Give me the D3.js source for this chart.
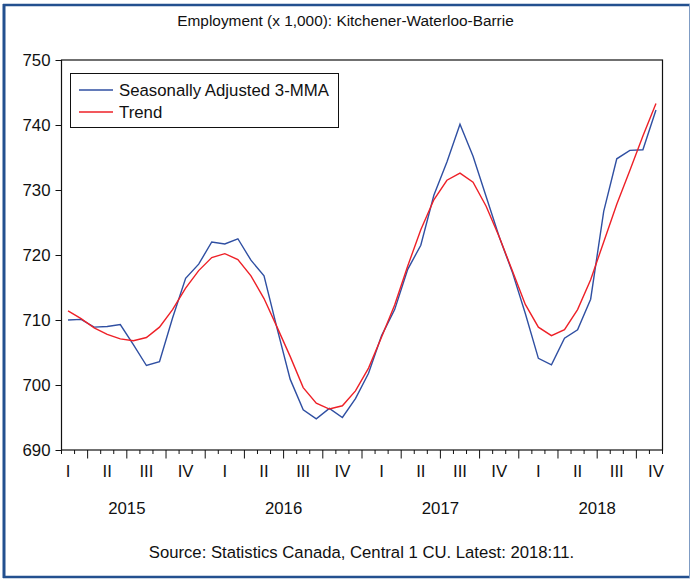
<!DOCTYPE html>
<html><head><meta charset="utf-8">
<script src="https://cdn.jsdelivr.net/npm/d3@7"></script>
<style>body{margin:0;background:#fff}svg{display:block}text{font-family:"Liberation Sans",Arial,sans-serif;fill:#111}</style>
</head><body>
<script>
const months = ["2015-02","2015-03","2015-04","2015-05","2015-06","2015-07","2015-08","2015-09","2015-10","2015-11","2015-12",
"2016-01","2016-02","2016-03","2016-04","2016-05","2016-06","2016-07","2016-08","2016-09","2016-10","2016-11","2016-12",
"2017-01","2017-02","2017-03","2017-04","2017-05","2017-06","2017-07","2017-08","2017-09","2017-10","2017-11","2017-12",
"2018-01","2018-02","2018-03","2018-04","2018-05","2018-06","2018-07","2018-08","2018-09","2018-10","2018-11"];
const sa3mma = [710.0,710.1,708.9,709.0,709.3,706.2,703.0,703.6,710.3,716.4,718.6,722.0,721.7,722.5,719.2,716.8,708.7,700.9,696.2,694.8,696.4,695.0,697.9,701.8,707.6,711.6,717.8,721.5,729.2,734.3,740.1,735.2,729.0,722.8,717.4,711.0,704.1,703.1,707.2,708.5,713.2,726.7,734.8,736.1,736.2,742.3];
const trend = [711.4,710.2,708.8,707.8,707.1,706.8,707.3,708.9,711.6,714.9,717.6,719.6,720.2,719.3,716.8,713.3,708.9,704.4,699.6,697.2,696.3,696.8,699.1,702.6,707.4,712.3,718.3,723.9,728.5,731.5,732.6,731.2,727.5,722.8,717.6,712.4,708.9,707.6,708.5,711.6,716.2,722.0,727.8,733.0,738.3,743.3];
const yTicks = [690,700,710,720,730,740,750];
const quarterLabels = ["I","II","III","IV","I","II","III","IV","I","II","III","IV","I","II","III","IV"];
const years = ["2015","2016","2017","2018"];
const seriesNames = ["Seasonally Adjusted 3-MMA","Trend"];
const titleText = "Employment (x 1,000): Kitchener-Waterloo-Barrie";
const sourceText = "Source: Statistics Canada, Central 1 CU. Latest: 2018:11.";

const W=691,H=581;
const L=61.5,R=662.5,T=60,B=450;
const svg=d3.select("body").append("svg").attr("width",W).attr("height",H);

// outer frame
svg.append("rect").attr("x",0).attr("y",0).attr("width",W).attr("height",H).attr("fill","#fff");
svg.append("line").attr("x1",4).attr("x2",4).attr("y1",4).attr("y2",578).attr("stroke","#23508f").attr("stroke-width",3);
svg.append("line").attr("x1",3).attr("x2",690).attr("y1",5).attr("y2",5).attr("stroke","#23508f").attr("stroke-width",2.5);
svg.append("line").attr("x1",3).attr("x2",690).attr("y1",577).attr("y2",577).attr("stroke","#23508f").attr("stroke-width",2.5);
svg.append("line").attr("x1",689.5).attr("x2",689.5).attr("y1",4).attr("y2",578).attr("stroke","#7f9cc4").attr("stroke-width",1);

const x=d3.scaleLinear().domain([-0.5,months.length-0.5]).range([L,R]);
const y=d3.scaleLinear().domain([690,750]).range([B,T]);

// plot frame
svg.append("rect").attr("x",L).attr("y",T).attr("width",R-L).attr("height",B-T).attr("fill","none").attr("stroke","#111").attr("stroke-width",1.2);

// y axis
const yAxis=d3.axisLeft(y).tickValues(yTicks).tickSize(6).tickPadding(5).tickFormat(d3.format("d"));
const gy=svg.append("g").attr("transform",`translate(${L},0)`).call(yAxis);
gy.select(".domain").remove();
gy.selectAll("line").attr("stroke","#111");
gy.selectAll("text").style("font-size","16.8px").style("font-family","Liberation Sans, Arial, sans-serif").attr("fill","#111");

// x ticks: month boundaries, long at quarter boundaries
const bounds=d3.range(0,months.length+1);
svg.append("g").selectAll("line").data(bounds).join("line")
  .attr("x1",k=>x(k-0.5)).attr("x2",k=>x(k-0.5))
  .attr("y1",B).attr("y2",k=>((k-2)%3===0&&k>0&&k<months.length)?B+8.5:B+4)
  .attr("stroke","#111").attr("stroke-width",1);

// quarter labels
svg.append("g").selectAll("text").data(quarterLabels).join("text")
  .attr("x",(d,i)=>x(i*3)).attr("y",477).attr("text-anchor","middle")
  .style("font-size","16.8px").text(d=>d);
// years
svg.append("g").selectAll("text").data(years).join("text")
  .attr("x",(d,i)=>x(4.5+12*i)).attr("y",514).attr("text-anchor","middle")
  .style("font-size","16.8px").text(d=>d);

// lines
const line=d3.line().x((d,i)=>x(i)).y(d=>y(d));
svg.append("path").datum(sa3mma).attr("d",line).attr("fill","none").attr("stroke","#2f4fa2").attr("stroke-width",1.4);
svg.append("path").datum(trend).attr("d",line).attr("fill","none").attr("stroke","#ee2027").attr("stroke-width",1.4);

// legend
const lg=svg.append("g");
lg.append("rect").attr("x",70.5).attr("y",73.5).attr("width",268).attr("height",54).attr("fill","#fff").attr("stroke","#111").attr("stroke-width",1);
const colors=["#2f4fa2","#ee2027"];
seriesNames.forEach((n,i)=>{
  const yy=90+22*i;
  lg.append("line").attr("x1",79).attr("x2",113).attr("y1",yy).attr("y2",yy).attr("stroke",colors[i]).attr("stroke-width",1.4);
  lg.append("text").attr("x",119).attr("y",yy+6).style("font-size","16.8px").text(n);
});

// title & source
svg.append("text").attr("x",345.5).attr("y",26).attr("text-anchor","middle").style("font-size","15.4px").text(titleText);
svg.append("text").attr("x",361.5).attr("y",558).attr("text-anchor","middle").style("font-size","16.7px").text(sourceText);
</script>
</body></html>
